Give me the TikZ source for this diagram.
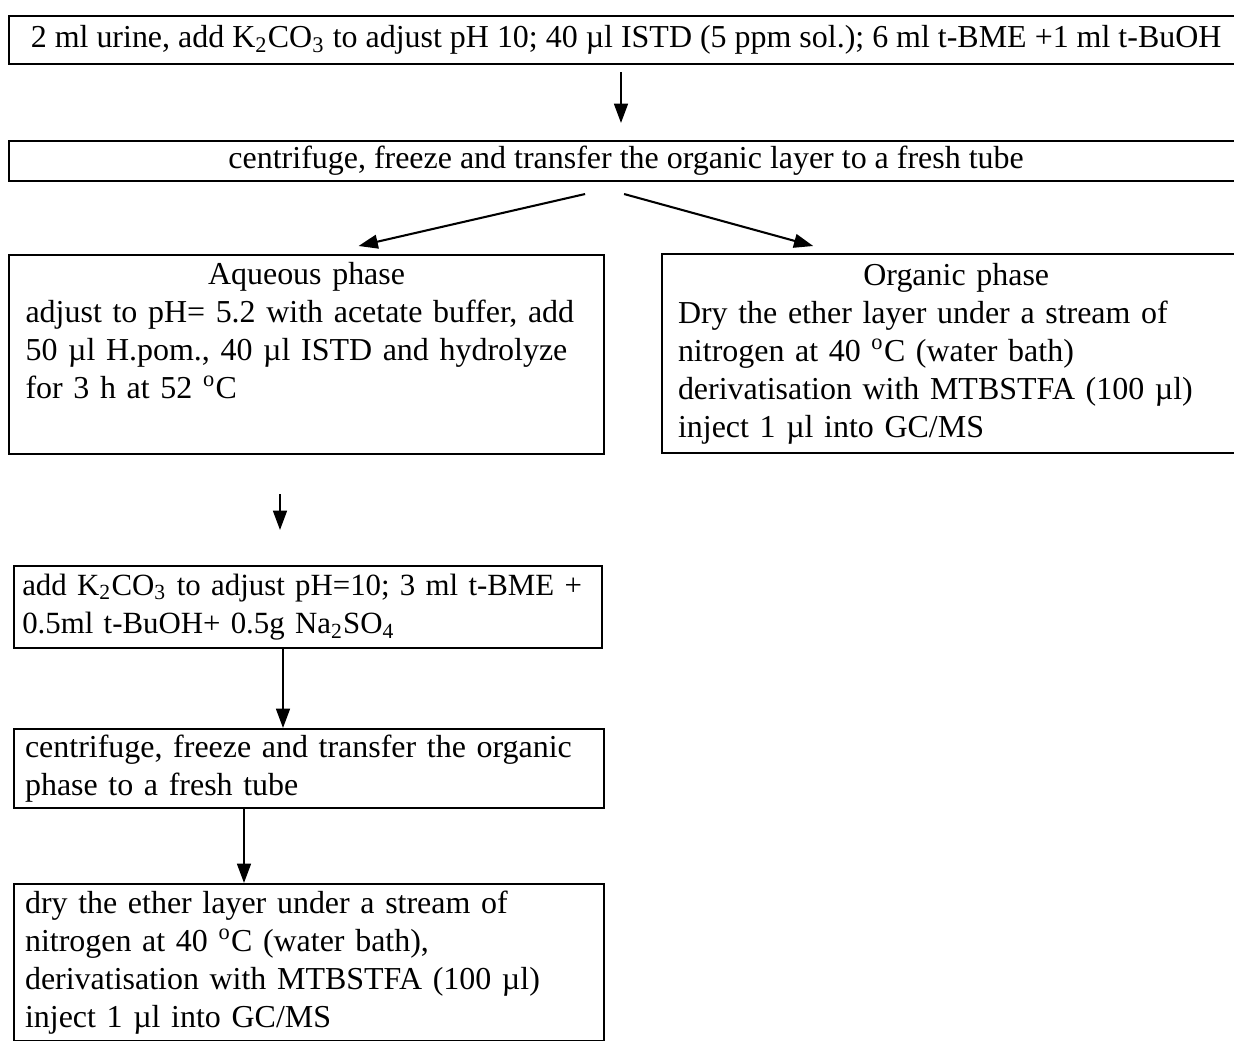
\documentclass[tikz,border=0pt]{standalone}
\usepackage{fontspec}
\setmainfont{Liberation Serif}
\usetikzlibrary{arrows.meta,calc}
\hyphenpenalty=10000
\exhyphenpenalty=10000

\begin{document}
\begin{tikzpicture}[x=0.363pt,y=-0.363pt,
  font=\fontsize{11.6}{13.8}\selectfont,
  stepbox/.style={draw,line width=0.75pt,anchor=north west,align=left,inner ysep=1pt},
  flow/.style={line width=0.75pt,-{Triangle[length=7pt,width=5pt]}}]
\useasboundingbox (0,0) rectangle (1234,1040);
\node[stepbox,align=center,minimum width=448pt,minimum height=17.4pt] (urine) at (8,15)
  {2 ml urine, add K\textsubscript{2}CO\textsubscript{3} to adjust pH 10; 40 µl ISTD (5 ppm sol.); 6 ml t-BME +1 ml t-BuOH};
\node[stepbox,align=center,minimum width=448pt,minimum height=14.5pt] (spin) at (8,140)
  {centrifuge, freeze and transfer the organic layer to a fresh tube};
\node[stepbox,text width=204pt,inner xsep=6pt,inner ysep=2.5pt,minimum height=72.2pt] (aq) at (8,254)
  {\hspace*{\fill}Aqueous phase\hspace*{\fill}\null\\
   adjust to pH= 5.2 with acetate buffer, add\\
   50 µl H.pom., 40 µl ISTD and hydrolyze\\
   for 3 h at 52 \textsuperscript{o}C\\ \strut};
\node[stepbox,text width=202pt,inner xsep=5.8pt,inner ysep=2.5pt,minimum height=72.2pt] (org) at (661,253)
  {\hspace*{\fill}Organic phase\hspace*{\fill}\null\\
   Dry the ether layer under a stream of\\
   nitrogen at 40 \textsuperscript{o}C (water bath)\\
   derivatisation with MTBSTFA (100 µl)\\
   inject 1 µl into GC/MS};
\node[stepbox,font=\fontsize{11.2}{13.8}\selectfont,text width=207.4pt,inner xsep=3pt,minimum height=29.8pt] (base) at (13,565)
  {\mbox{add K\textsubscript{2}CO\textsubscript{3} to adjust pH=10; 3 ml t-BME +}\\
   0.5ml t-BuOH+ 0.5g Na\textsubscript{2}SO\textsubscript{4}};
\node[stepbox,text width=206pt,inner xsep=4pt,minimum height=28.7pt] (spin2) at (13,728)
  {centrifuge, freeze and transfer the organic\\
   phase to a fresh tube};
\node[stepbox,text width=206pt,inner xsep=4pt,inner ysep=2.5pt] (dry) at (13,883)
  {dry the ether layer under a stream of\\
   nitrogen at 40 \textsuperscript{o}C (water bath),\\
   derivatisation with MTBSTFA (100 µl)\\
   inject 1 µl into GC/MS};
% connectors
\draw[flow] ($(urine.south west)+(613,7)$) -- ($(spin.north west)+(613,-17)$);
\draw[flow] ($(spin.south)+(-41,12)$) -- ($(aq.north)+(52,-8)$);
\draw[flow] ($(spin.south)+(-2,12)$) -- ($(org.north)+(-143,-7)$);
\draw[flow] ($(aq.south west)+(272,39)$) -- ($(base.north west)+(267,-35)$);
\draw[flow] ($(base.south west)+(270,0)$) -- ($(spin2.north west)+(270,0)$);
\draw[flow] ($(spin2.south west)+(231,0)$) -- ($(dry.north west)+(231,0)$);
\end{tikzpicture}
\end{document}
